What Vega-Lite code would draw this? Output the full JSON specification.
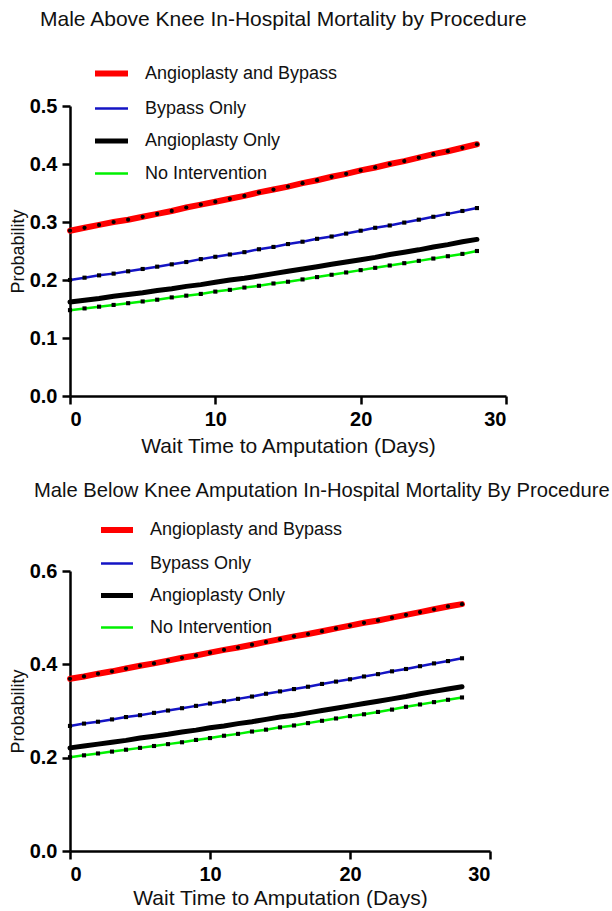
{
  "$schema": "https://vega.github.io/schema/vega-lite/v6.json",
  "padding": {"left": 9, "top": 9, "right": 0, "bottom": 0},
  "background": "white",
  "spacing": 24,
  "datasets": {
    "above": [
      {"d": 0, "Angioplasty and Bypass": 0.285, "Bypass Only": 0.200, "Angioplasty Only": 0.162, "No Intervention": 0.148},
      {"d": 1, "Angioplasty and Bypass": 0.290, "Bypass Only": 0.204, "Angioplasty Only": 0.165, "No Intervention": 0.151},
      {"d": 2, "Angioplasty and Bypass": 0.295, "Bypass Only": 0.208, "Angioplasty Only": 0.168, "No Intervention": 0.154},
      {"d": 3, "Angioplasty and Bypass": 0.300, "Bypass Only": 0.211, "Angioplasty Only": 0.172, "No Intervention": 0.157},
      {"d": 4, "Angioplasty and Bypass": 0.304, "Bypass Only": 0.215, "Angioplasty Only": 0.175, "No Intervention": 0.160},
      {"d": 5, "Angioplasty and Bypass": 0.309, "Bypass Only": 0.219, "Angioplasty Only": 0.178, "No Intervention": 0.163},
      {"d": 6, "Angioplasty and Bypass": 0.314, "Bypass Only": 0.223, "Angioplasty Only": 0.182, "No Intervention": 0.166},
      {"d": 7, "Angioplasty and Bypass": 0.319, "Bypass Only": 0.227, "Angioplasty Only": 0.185, "No Intervention": 0.170},
      {"d": 8, "Angioplasty and Bypass": 0.325, "Bypass Only": 0.231, "Angioplasty Only": 0.189, "No Intervention": 0.173},
      {"d": 9, "Angioplasty and Bypass": 0.330, "Bypass Only": 0.236, "Angioplasty Only": 0.192, "No Intervention": 0.176},
      {"d": 10, "Angioplasty and Bypass": 0.335, "Bypass Only": 0.240, "Angioplasty Only": 0.196, "No Intervention": 0.180},
      {"d": 11, "Angioplasty and Bypass": 0.340, "Bypass Only": 0.244, "Angioplasty Only": 0.200, "No Intervention": 0.183},
      {"d": 12, "Angioplasty and Bypass": 0.345, "Bypass Only": 0.248, "Angioplasty Only": 0.203, "No Intervention": 0.187},
      {"d": 13, "Angioplasty and Bypass": 0.351, "Bypass Only": 0.253, "Angioplasty Only": 0.207, "No Intervention": 0.190},
      {"d": 14, "Angioplasty and Bypass": 0.356, "Bypass Only": 0.257, "Angioplasty Only": 0.211, "No Intervention": 0.194},
      {"d": 15, "Angioplasty and Bypass": 0.361, "Bypass Only": 0.262, "Angioplasty Only": 0.215, "No Intervention": 0.197},
      {"d": 16, "Angioplasty and Bypass": 0.367, "Bypass Only": 0.266, "Angioplasty Only": 0.219, "No Intervention": 0.201},
      {"d": 17, "Angioplasty and Bypass": 0.372, "Bypass Only": 0.271, "Angioplasty Only": 0.223, "No Intervention": 0.205},
      {"d": 18, "Angioplasty and Bypass": 0.378, "Bypass Only": 0.275, "Angioplasty Only": 0.227, "No Intervention": 0.209},
      {"d": 19, "Angioplasty and Bypass": 0.383, "Bypass Only": 0.280, "Angioplasty Only": 0.231, "No Intervention": 0.213},
      {"d": 20, "Angioplasty and Bypass": 0.389, "Bypass Only": 0.285, "Angioplasty Only": 0.235, "No Intervention": 0.217},
      {"d": 21, "Angioplasty and Bypass": 0.394, "Bypass Only": 0.290, "Angioplasty Only": 0.239, "No Intervention": 0.221},
      {"d": 22, "Angioplasty and Bypass": 0.400, "Bypass Only": 0.294, "Angioplasty Only": 0.244, "No Intervention": 0.225},
      {"d": 23, "Angioplasty and Bypass": 0.405, "Bypass Only": 0.299, "Angioplasty Only": 0.248, "No Intervention": 0.229},
      {"d": 24, "Angioplasty and Bypass": 0.411, "Bypass Only": 0.304, "Angioplasty Only": 0.252, "No Intervention": 0.233},
      {"d": 25, "Angioplasty and Bypass": 0.417, "Bypass Only": 0.309, "Angioplasty Only": 0.257, "No Intervention": 0.237},
      {"d": 26, "Angioplasty and Bypass": 0.422, "Bypass Only": 0.314, "Angioplasty Only": 0.261, "No Intervention": 0.241},
      {"d": 27, "Angioplasty and Bypass": 0.428, "Bypass Only": 0.319, "Angioplasty Only": 0.266, "No Intervention": 0.245},
      {"d": 28, "Angioplasty and Bypass": 0.434, "Bypass Only": 0.324, "Angioplasty Only": 0.270, "No Intervention": 0.250}
    ],
    "below": [
      {"d": 0, "Angioplasty and Bypass": 0.369, "Bypass Only": 0.268, "Angioplasty Only": 0.221, "No Intervention": 0.201},
      {"d": 1, "Angioplasty and Bypass": 0.374, "Bypass Only": 0.273, "Angioplasty Only": 0.225, "No Intervention": 0.205},
      {"d": 2, "Angioplasty and Bypass": 0.380, "Bypass Only": 0.277, "Angioplasty Only": 0.229, "No Intervention": 0.209},
      {"d": 3, "Angioplasty and Bypass": 0.385, "Bypass Only": 0.282, "Angioplasty Only": 0.233, "No Intervention": 0.213},
      {"d": 4, "Angioplasty and Bypass": 0.391, "Bypass Only": 0.287, "Angioplasty Only": 0.237, "No Intervention": 0.217},
      {"d": 5, "Angioplasty and Bypass": 0.397, "Bypass Only": 0.291, "Angioplasty Only": 0.242, "No Intervention": 0.221},
      {"d": 6, "Angioplasty and Bypass": 0.402, "Bypass Only": 0.296, "Angioplasty Only": 0.246, "No Intervention": 0.225},
      {"d": 7, "Angioplasty and Bypass": 0.408, "Bypass Only": 0.301, "Angioplasty Only": 0.250, "No Intervention": 0.229},
      {"d": 8, "Angioplasty and Bypass": 0.414, "Bypass Only": 0.306, "Angioplasty Only": 0.255, "No Intervention": 0.233},
      {"d": 9, "Angioplasty and Bypass": 0.419, "Bypass Only": 0.311, "Angioplasty Only": 0.259, "No Intervention": 0.238},
      {"d": 10, "Angioplasty and Bypass": 0.425, "Bypass Only": 0.316, "Angioplasty Only": 0.264, "No Intervention": 0.242},
      {"d": 11, "Angioplasty and Bypass": 0.431, "Bypass Only": 0.321, "Angioplasty Only": 0.268, "No Intervention": 0.247},
      {"d": 12, "Angioplasty and Bypass": 0.436, "Bypass Only": 0.326, "Angioplasty Only": 0.273, "No Intervention": 0.251},
      {"d": 13, "Angioplasty and Bypass": 0.442, "Bypass Only": 0.331, "Angioplasty Only": 0.277, "No Intervention": 0.256},
      {"d": 14, "Angioplasty and Bypass": 0.448, "Bypass Only": 0.337, "Angioplasty Only": 0.282, "No Intervention": 0.260},
      {"d": 15, "Angioplasty and Bypass": 0.454, "Bypass Only": 0.342, "Angioplasty Only": 0.287, "No Intervention": 0.265},
      {"d": 16, "Angioplasty and Bypass": 0.460, "Bypass Only": 0.347, "Angioplasty Only": 0.291, "No Intervention": 0.269},
      {"d": 17, "Angioplasty and Bypass": 0.465, "Bypass Only": 0.352, "Angioplasty Only": 0.296, "No Intervention": 0.274},
      {"d": 18, "Angioplasty and Bypass": 0.471, "Bypass Only": 0.358, "Angioplasty Only": 0.301, "No Intervention": 0.279},
      {"d": 19, "Angioplasty and Bypass": 0.477, "Bypass Only": 0.363, "Angioplasty Only": 0.306, "No Intervention": 0.284},
      {"d": 20, "Angioplasty and Bypass": 0.483, "Bypass Only": 0.368, "Angioplasty Only": 0.311, "No Intervention": 0.289},
      {"d": 21, "Angioplasty and Bypass": 0.489, "Bypass Only": 0.374, "Angioplasty Only": 0.316, "No Intervention": 0.293},
      {"d": 22, "Angioplasty and Bypass": 0.494, "Bypass Only": 0.379, "Angioplasty Only": 0.321, "No Intervention": 0.298},
      {"d": 23, "Angioplasty and Bypass": 0.500, "Bypass Only": 0.385, "Angioplasty Only": 0.326, "No Intervention": 0.303},
      {"d": 24, "Angioplasty and Bypass": 0.506, "Bypass Only": 0.390, "Angioplasty Only": 0.331, "No Intervention": 0.309},
      {"d": 25, "Angioplasty and Bypass": 0.512, "Bypass Only": 0.396, "Angioplasty Only": 0.337, "No Intervention": 0.314},
      {"d": 26, "Angioplasty and Bypass": 0.518, "Bypass Only": 0.402, "Angioplasty Only": 0.342, "No Intervention": 0.319},
      {"d": 27, "Angioplasty and Bypass": 0.524, "Bypass Only": 0.407, "Angioplasty Only": 0.347, "No Intervention": 0.324},
      {"d": 28, "Angioplasty and Bypass": 0.529, "Bypass Only": 0.413, "Angioplasty Only": 0.352, "No Intervention": 0.329}
    ]
  },
  "vconcat": [
    {
      "title": {"text": "Male Above Knee In-Hospital Mortality by Procedure", "anchor": "start", "frame": "group", "dx": -30, "fontSize": 21, "offset": 24},
      "width": 436,
      "height": 290,
      "data": {"name": "above"},
      "transform": [{"fold": ["Angioplasty and Bypass", "Bypass Only", "Angioplasty Only", "No Intervention"], "as": ["s", "v"]}],
      "encoding": {
        "x": {"field": "d", "type": "quantitative", "scale": {"domain": [0, 30], "nice": false}, "axis": {"values": [0, 10, 20, 30], "title": "Wait Time to Amputation (Days)"}},
        "y": {"field": "v", "type": "quantitative", "scale": {"domain": [0, 0.5], "nice": false}, "axis": {"values": [0, 0.1, 0.2, 0.3, 0.4, 0.5], "format": ".1f", "title": "Probability"}}
      },
      "layer": [
        {
          "mark": {"type": "line", "strokeCap": "round"},
          "encoding": {
            "color": {"field": "s", "type": "nominal", "scale": {"domain": ["Angioplasty and Bypass", "Bypass Only", "Angioplasty Only", "No Intervention"], "range": ["#ff0000", "#1414c4", "#000000", "#00f000"]}, "legend": {"orient": "none", "legendX": 22, "legendY": -52, "title": null, "symbolSize": 1089, "rowPadding": 4.5}},
            "strokeWidth": {"field": "s", "type": "nominal", "scale": {"type": "ordinal", "domain": ["Angioplasty and Bypass", "Bypass Only", "Angioplasty Only", "No Intervention"], "range": [6, 2.5, 5, 2.5]}, "legend": {"orient": "none", "legendX": 22, "legendY": -52, "title": null, "symbolSize": 1089, "rowPadding": 4.5}}
          }
        },
        {
          "transform": [{"filter": "datum.s == 'Angioplasty and Bypass'"}],
          "mark": {"type": "circle", "color": "black", "size": 18, "opacity": 1},
          "encoding": {}
        },
        {
          "transform": [{"filter": "datum.s == 'Bypass Only' || datum.s == 'No Intervention'"}],
          "mark": {"type": "square", "color": "black", "size": 17, "opacity": 1},
          "encoding": {}
        }
      ]
    },
    {
      "title": {"text": "Male Below Knee Amputation In-Hospital Mortality By Procedure", "anchor": "start", "frame": "group", "dx": -36, "fontSize": 20.2, "offset": 10},
      "width": 420,
      "height": 280,
      "data": {"name": "below"},
      "transform": [{"fold": ["Angioplasty and Bypass", "Bypass Only", "Angioplasty Only", "No Intervention"], "as": ["s", "v"]}],
      "encoding": {
        "x": {"field": "d", "type": "quantitative", "scale": {"domain": [0, 30], "nice": false}, "axis": {"values": [0, 10, 20, 30], "title": "Wait Time to Amputation (Days)", "titlePadding": 3}},
        "y": {"field": "v", "type": "quantitative", "scale": {"domain": [0, 0.6], "nice": false}, "axis": {"values": [0, 0.2, 0.4, 0.6], "format": ".1f", "title": "Probability"}}
      },
      "layer": [
        {
          "mark": {"type": "line", "strokeCap": "round"},
          "encoding": {
            "color": {"field": "s", "type": "nominal", "scale": {"domain": ["Angioplasty and Bypass", "Bypass Only", "Angioplasty Only", "No Intervention"], "range": ["#ff0000", "#1414c4", "#000000", "#00f000"]}, "legend": {"orient": "none", "legendX": 28, "legendY": -60, "title": null, "symbolSize": 1024, "rowPadding": 4}},
            "strokeWidth": {"field": "s", "type": "nominal", "scale": {"type": "ordinal", "domain": ["Angioplasty and Bypass", "Bypass Only", "Angioplasty Only", "No Intervention"], "range": [6, 2.5, 5, 2.5]}, "legend": {"orient": "none", "legendX": 28, "legendY": -60, "title": null, "symbolSize": 1024, "rowPadding": 4}}
          }
        },
        {
          "transform": [{"filter": "datum.s == 'Angioplasty and Bypass'"}],
          "mark": {"type": "circle", "color": "black", "size": 18, "opacity": 1},
          "encoding": {}
        },
        {
          "transform": [{"filter": "datum.s == 'Bypass Only' || datum.s == 'No Intervention'"}],
          "mark": {"type": "square", "color": "black", "size": 17, "opacity": 1},
          "encoding": {}
        }
      ]
    }
  ],
  "resolve": {"scale": {"color": "independent", "strokeWidth": "independent"}, "legend": {"color": "independent", "strokeWidth": "independent"}},
  "config": {
    "font": "Liberation Sans",
    "view": {"stroke": null},
    "title": {"font": "Liberation Sans", "fontWeight": "normal", "color": "#111111"},
    "axis": {
      "grid": false,
      "domainColor": "black",
      "domainWidth": 2.5,
      "tickColor": "black",
      "tickWidth": 2.5,
      "tickSize": 8,
      "labelFont": "Liberation Sans",
      "labelFontSize": 20,
      "labelFontWeight": "bold",
      "labelColor": "black",
      "labelPadding": 5,
      "titleFont": "Liberation Sans",
      "titleFontWeight": "normal",
      "titleColor": "#111111"
    },
    "axisX": {"titleFontSize": 21, "titlePadding": 6},
    "axisY": {"titleFontSize": 18, "titlePadding": 2},
    "legend": {
      "symbolType": "stroke",
      "labelFont": "Liberation Sans",
      "labelFontSize": 18,
      "labelColor": "#111111",
      "labelOffset": 14,
      "labelLimit": 400,
      "padding": 0,
      "rowPadding": 5,
      "symbolStrokeColor": "black"
    }
  }
}
